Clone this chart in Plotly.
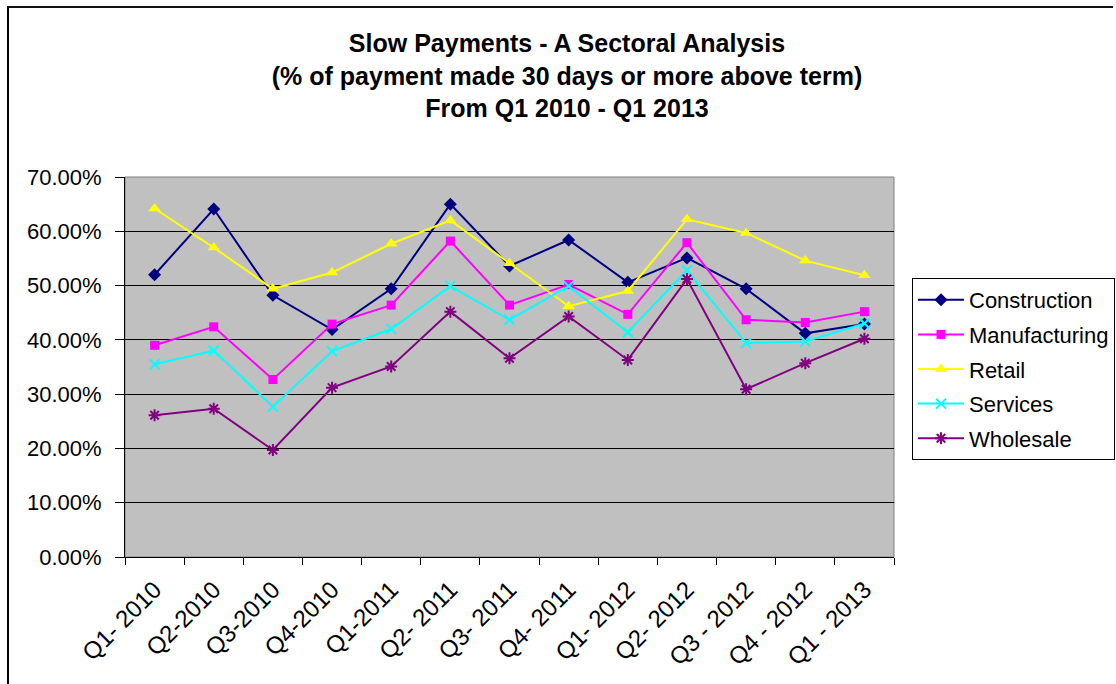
import plotly.graph_objects as go

quarters = ["Q1- 2010", "Q2-2010", "Q3-2010", "Q4-2010", "Q1-2011", "Q2- 2011",
            "Q3- 2011", "Q4- 2011", "Q1- 2012", "Q2- 2012", "Q3 - 2012", "Q4 - 2012", "Q1 - 2013"]

construction = [0.520, 0.641, 0.482, 0.419, 0.494, 0.650, 0.536, 0.584, 0.506, 0.551, 0.494, 0.412, 0.429]
manufacturing = [0.390, 0.424, 0.327, 0.429, 0.464, 0.582, 0.464, 0.502, 0.447, 0.579, 0.437, 0.432, 0.452]
retail = [0.642, 0.570, 0.494, 0.524, 0.577, 0.620, 0.541, 0.462, 0.490, 0.622, 0.597, 0.546, 0.519]
services = [0.355, 0.380, 0.277, 0.379, 0.420, 0.499, 0.437, 0.499, 0.414, 0.528, 0.394, 0.397, 0.430]
wholesale = [0.261, 0.273, 0.197, 0.312, 0.351, 0.452, 0.366, 0.443, 0.363, 0.512, 0.309, 0.357, 0.402]

series = [
    ("Construction", construction, "#000080", "diamond", 10),
    ("Manufacturing", manufacturing, "#FF00FF", "square", 9),
    ("Retail", retail, "#FFFF00", "triangle-up", 11),
    ("Services", services, "#00FFFF", "x-thin", 10),
    ("Wholesale", wholesale, "#800080", "asterisk", 10),
]

FONT = "Liberation Sans, Arial, sans-serif"

fig = go.Figure()
for name, vals, color, sym, size in series:
    fig.add_trace(go.Scatter(
        x=quarters, y=vals, name=name, mode="lines+markers",
        legendgroup=name,
        line=dict(color=color, width=2),
        marker=dict(symbol=sym, size=size, color=color,
                    line=dict(color=color, width=2 if sym in ("x-thin", "asterisk") else 0)),
    ))

L, R, T, B = 125, 222, 177, 127
W, H = 1116, 684
pw, ph = W - L - R, H - T - B


def py(pix):
    return (H - B - pix) / ph


def px(pix):
    return (pix - L) / pw


fig.update_layout(
    width=W, height=H,
    margin=dict(l=L, r=R, t=T, b=B, autoexpand=False),
    paper_bgcolor="white",
    plot_bgcolor="#C0C0C0",
    font=dict(family=FONT, color="black", size=20),
    title=dict(
        text="<b>Slow Payments - A Sectoral Analysis<br>(% of payment made 30 days or more above term)<br>From Q1 2010 - Q1 2013</b>",
        x=567 / W, xanchor="center", xref="container",
        y=1 - 52 / H, yanchor="top", yref="container",
        font=dict(family=FONT, size=25, color="black"),
    ),
    showlegend=True,
    legend=dict(
        x=px(912), xanchor="left",
        y=py(278), yanchor="top",
        bgcolor="white", bordercolor="black", borderwidth=1,
        font=dict(family=FONT, size=22, color="black"),
        tracegroupgap=3,
        itemwidth=46,
    ),
    xaxis=dict(
        type="category", showgrid=False, tickangle=-45,
        tickson="boundaries", ticks="outside", ticklen=7, tickcolor="black",
        showline=True, linecolor="black", linewidth=1,
        tickfont=dict(family=FONT, size=24, color="black"),
        ticklabelstandoff=8,
        range=[-0.5, len(quarters) - 0.5],
        fixedrange=True,
    ),
    yaxis=dict(
        range=[0, 0.7], dtick=0.1, tick0=0, tickformat=".2%",
        showgrid=True, gridcolor="black", gridwidth=1,
        ticks="outside", ticklen=9, tickcolor="black",
        showline=True, linecolor="black", linewidth=1,
        tickfont=dict(family=FONT, size=22, color="black"),
        ticklabelstandoff=9,
        zeroline=False, fixedrange=True,
    ),
    shapes=[
        dict(type="rect", xref="paper", yref="paper",
             x0=0, x1=1, y0=0, y1=1, line=dict(color="#808080", width=1), layer="below"),
        dict(type="rect", xref="paper", yref="paper",
             x0=px(7), x1=px(9), y0=py(H + 5), y1=py(6),
             fillcolor="black", line=dict(width=0), layer="above"),
        dict(type="rect", xref="paper", yref="paper",
             x0=px(7), x1=px(W - 3), y0=py(8), y1=py(6),
             fillcolor="#111111", line=dict(width=0), layer="above"),
    ],
)

fig.write_html("out.html", config={"displayModeBar": False})
